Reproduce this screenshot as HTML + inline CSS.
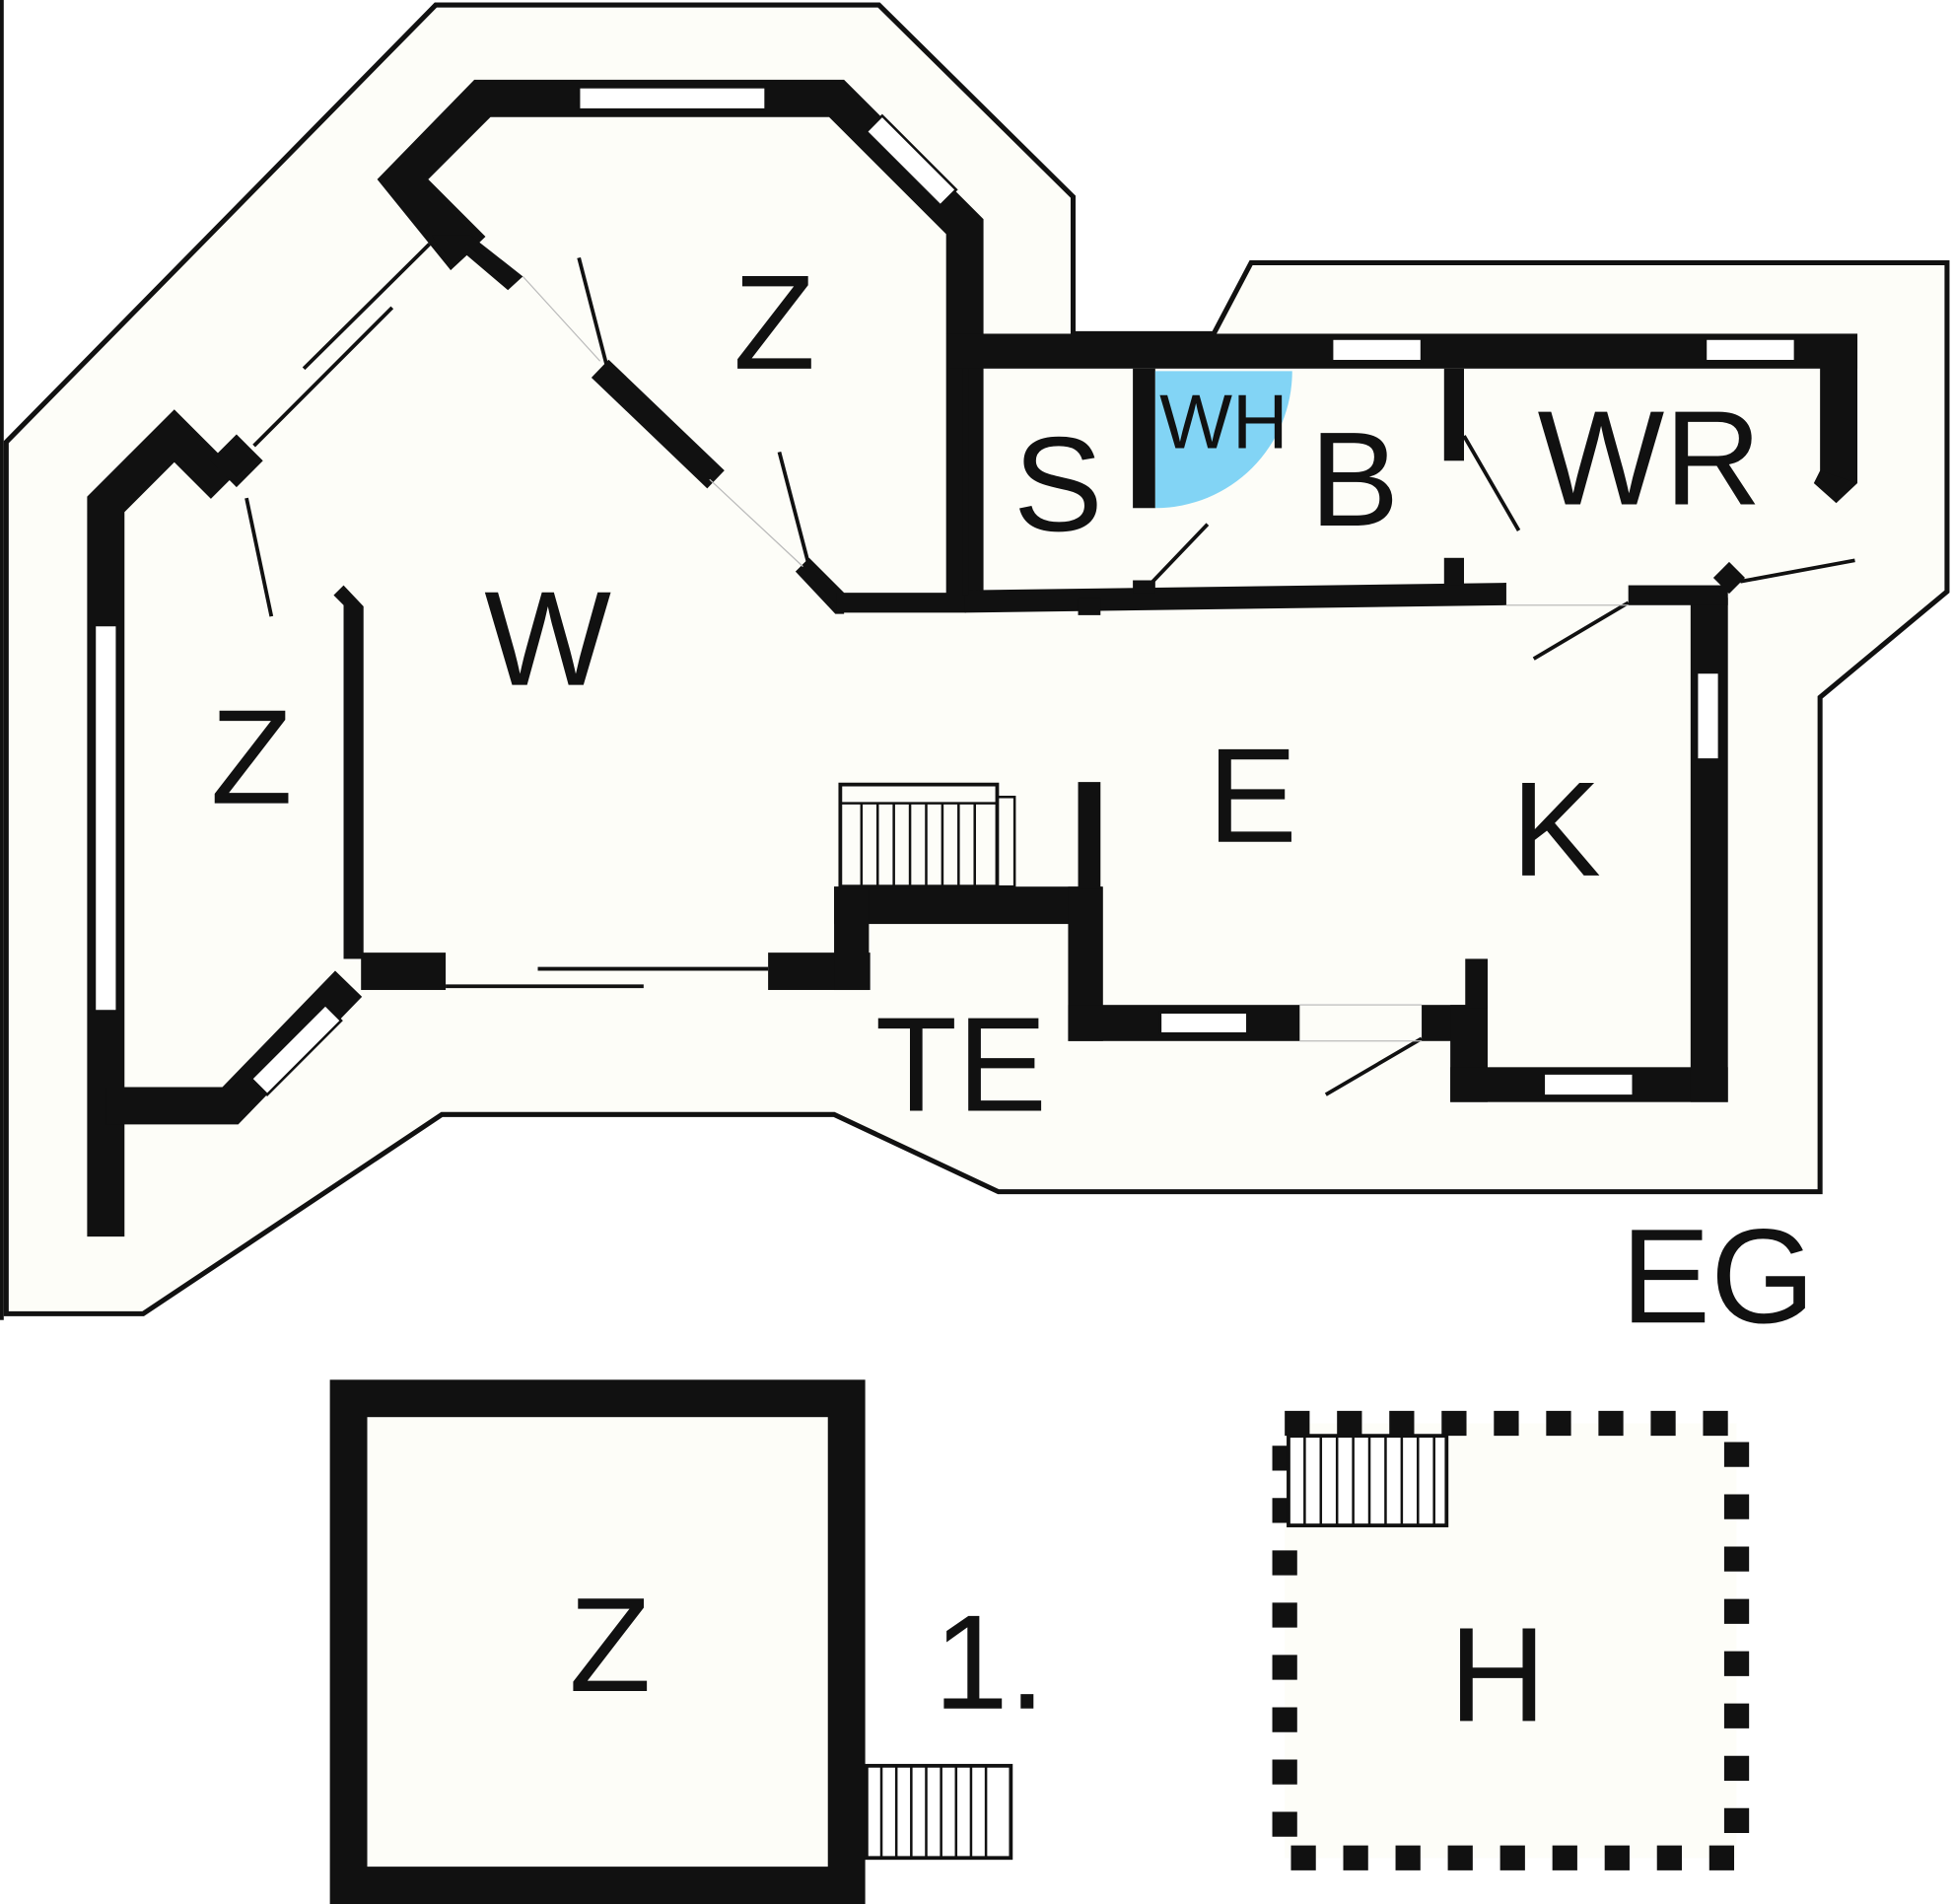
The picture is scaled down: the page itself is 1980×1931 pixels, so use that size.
<!DOCTYPE html>
<html><head><meta charset="utf-8"><style>
html,body{margin:0;padding:0;background:#fff}
svg{display:block}
text{font-family:"Liberation Sans",Arial,sans-serif;fill:#111}
</style></head><body>
<svg width="1980" height="1931" viewBox="0 0 1568 1529" preserveAspectRatio="none" xmlns="http://www.w3.org/2000/svg">
<rect width="1568" height="1529" fill="#fff"/>
<line x1="1.5" y1="0" x2="1.5" y2="1060" stroke="#111" stroke-width="3"/>
<polygon points="350,4 706,4 862,158 862,268 975,268 1005,211 1564,211 1564,475 1462,560 1462,957 802,957 670,895 355,895 115,1055 5,1055 5,355" fill="#fdfdf8" stroke="#111" stroke-width="4"/>
<g fill="#111" stroke="none">
<!-- top Z walls -->
<polygon points="381,64 678,64 790,176 790,268 760,268 760,188 666,94 394,94 344,144 390,190 362,217 303,144"/>
<polygon points="347,189 378,189 420,222 408,233 375,205 362,217"/>
<line x1="482" y1="296" x2="575" y2="385" stroke="#111" stroke-width="20"/>
<polygon points="639,459 650,448 678,476 678,493 671,493"/>
<rect x="760" y="268" width="30" height="212"/>
<rect x="672" y="476" width="104" height="16"/>
<polygon points="775,474 1210,468 1210,486 775,492"/>
<rect x="866" y="480" width="18" height="14"/>
<!-- left Z -->
<polyline points="85,993 85,405 140,350 180,390" fill="none" stroke="#111" stroke-width="30"/>
<rect x="175" y="355" width="30" height="30" transform="rotate(45 190 370)"/>
<polygon points="276,470 292,487 292,770 276,770 276,486 268,478"/>
<polyline points="85,888 185,888 280,790" fill="none" stroke="#111" stroke-width="30"/>
<rect x="290" y="765" width="68" height="30"/>
<rect x="617" y="765" width="82" height="30"/>
<rect x="670" y="712" width="215" height="30"/>
<rect x="670" y="712" width="28" height="83"/>
<rect x="858" y="712" width="28" height="124"/>
<rect x="858" y="807" width="186" height="29"/>
<rect x="866" y="628" width="18" height="86"/>
<rect x="1142" y="807" width="40" height="29"/>
<rect x="1165" y="807" width="30" height="78"/>
<rect x="1177" y="770" width="18" height="40"/>
<rect x="1165" y="857" width="223" height="28"/>
<rect x="1358" y="480" width="30" height="405"/>
<rect x="1308" y="470" width="80" height="16"/>
<rect x="762" y="268" width="730" height="28"/>
<rect x="1462" y="268" width="30" height="120"/>
<polygon points="1462,378 1492,388 1475,404 1457,388"/>
<rect x="1380" y="455" width="18" height="18" transform="rotate(45 1389 464)"/>
<rect x="773" y="296" width="5" height="182"/>
<rect x="910" y="296" width="18" height="112"/>
<rect x="910" y="466" width="18" height="10"/>
<rect x="1160" y="296" width="16" height="74"/>
<rect x="1160" y="448" width="16" height="22"/>
</g>
<path d="M928,298 L1038,298 A110,110 0 0 1 928,408 Z" fill="#82d4f5"/>
<g fill="#fff" stroke="#111" stroke-width="2">
<rect x="465" y="70" width="150" height="18"/>
<rect x="690" y="120" width="84" height="18" transform="rotate(45 732 129)"/>
<rect x="76" y="502" width="18" height="310"/>
<rect x="196" y="834" width="84" height="18" transform="rotate(-45 238 843)"/>
<rect x="932" y="813" width="70" height="17"/>
<rect x="1240" y="862" width="72" height="18"/>
<rect x="1363" y="540" width="18" height="70"/>
<rect x="1070" y="272" width="72" height="18"/>
<rect x="1370" y="272" width="72" height="18"/>
</g>
<g stroke="#111" stroke-width="3" fill="none">
<line x1="465" y1="207" x2="488" y2="296"/>
<line x1="626" y1="363" x2="650" y2="455"/>
<line x1="198" y1="400" x2="218" y2="495"/>
<line x1="244" y1="296" x2="345" y2="196"/>
<line x1="204" y1="358" x2="315" y2="247"/>
<line x1="925" y1="468" x2="970" y2="421"/>
<line x1="1176" y1="350" x2="1220" y2="426"/>
<line x1="1398" y1="467" x2="1490" y2="450"/>
<line x1="1232" y1="529" x2="1308" y2="484"/>
<line x1="1065" y1="879" x2="1142" y2="834"/>
<line x1="432" y1="778" x2="617" y2="778"/>
<line x1="358" y1="792" x2="517" y2="792"/>
</g>
<g stroke="#bbb" stroke-width="1" fill="none">
<line x1="420" y1="222" x2="482" y2="290"/>
<line x1="570" y1="385" x2="645" y2="455"/>
<line x1="1044" y1="807" x2="1142" y2="807"/>
<line x1="1044" y1="836" x2="1142" y2="836"/>
<line x1="1210" y1="486" x2="1308" y2="486"/>
</g>
<rect x="675" y="630" width="126" height="82" fill="none" stroke="#111" stroke-width="3"/>
<rect x="801" y="640" width="14" height="72" fill="none" stroke="#111" stroke-width="2"/>
<g stroke="#111" stroke-width="2">
<line x1="692" y1="645" x2="692" y2="712"/><line x1="705" y1="645" x2="705" y2="712"/><line x1="718" y1="645" x2="718" y2="712"/><line x1="731" y1="645" x2="731" y2="712"/><line x1="744" y1="645" x2="744" y2="712"/><line x1="757" y1="645" x2="757" y2="712"/><line x1="770" y1="645" x2="770" y2="712"/><line x1="783" y1="645" x2="783" y2="712"/><line x1="675" y1="645" x2="801" y2="645"/>
</g>
<!-- bottom Z -->
<rect x="280" y="1123" width="400" height="391" fill="#fdfdf8" stroke="#111" stroke-width="30"/>
<rect x="696" y="1418" width="116" height="74" fill="#fff" stroke="#111" stroke-width="3"/>
<g stroke="#111" stroke-width="2">
<line x1="708" y1="1418" x2="708" y2="1492"/><line x1="720" y1="1418" x2="720" y2="1492"/><line x1="732" y1="1418" x2="732" y2="1492"/><line x1="744" y1="1418" x2="744" y2="1492"/><line x1="756" y1="1418" x2="756" y2="1492"/><line x1="768" y1="1418" x2="768" y2="1492"/><line x1="780" y1="1418" x2="780" y2="1492"/><line x1="792" y1="1418" x2="792" y2="1492"/>
</g>
<rect x="1032" y="1143" width="363" height="349" fill="#fdfdf8" stroke="#111" stroke-width="20" stroke-dasharray="20,22"/>
<rect x="1035" y="1153" width="127" height="72" fill="#fff" stroke="#111" stroke-width="3"/>
<g stroke="#111" stroke-width="2">
<line x1="1048" y1="1153" x2="1048" y2="1225"/><line x1="1061" y1="1153" x2="1061" y2="1225"/><line x1="1074" y1="1153" x2="1074" y2="1225"/><line x1="1087" y1="1153" x2="1087" y2="1225"/><line x1="1100" y1="1153" x2="1100" y2="1225"/><line x1="1113" y1="1153" x2="1113" y2="1225"/><line x1="1126" y1="1153" x2="1126" y2="1225"/><line x1="1139" y1="1153" x2="1139" y2="1225"/><line x1="1152" y1="1153" x2="1152" y2="1225"/>
</g>
<g font-size="108">
<text x="622" y="296" text-anchor="middle">Z</text>
<text x="440" y="550" text-anchor="middle">W</text>
<text x="202" y="645" text-anchor="middle">Z</text>
<text x="850" y="426" text-anchor="middle">S</text>
<text x="1088" y="422" text-anchor="middle">B</text>
<text x="1325" y="405" text-anchor="middle">WR</text>
<text x="1006" y="676" text-anchor="middle">E</text>
<text x="1250" y="703" text-anchor="middle">K</text>
<text x="772" y="892" text-anchor="middle">TE</text>
<text x="1380" y="1062" text-anchor="middle">EG</text>
<text x="490" y="1358" text-anchor="middle">Z</text>
<text x="795" y="1372" text-anchor="middle">1.</text>
<text x="1203" y="1382" text-anchor="middle">H</text>
</g>
<text x="983" y="360" text-anchor="middle" font-size="62">WH</text>
</svg>
</body></html>
